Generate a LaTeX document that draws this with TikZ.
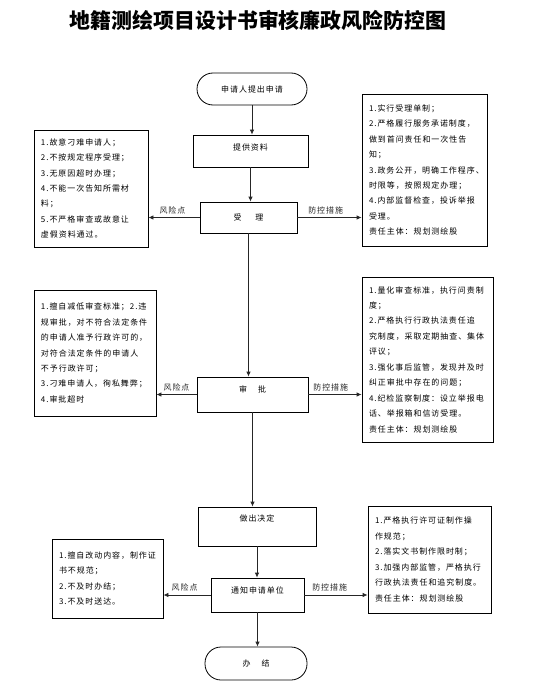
\documentclass[tikz,border=0pt]{standalone}
\usepackage{fontspec}
\newfontfamily\cjk[LetterSpace=12]{Noto Sans CJK SC}
\newfontfamily\titlefont{Noto Sans CJK SC}
\usetikzlibrary{arrows.meta}

\begin{document}
\begin{tikzpicture}[x=1bp, y=-1bp,
	every node/.style={font=\cjk\fontsize{8}{15.5}\selectfont},
	stepbox/.style={draw, rectangle, line width=0.8bp, inner sep=0pt},
	endbox/.style={draw, rectangle, rounded corners=16bp, line width=0.8bp, inner sep=0pt},
	riskbox/.style={draw, rectangle, align=left, line width=0.8bp, inner xsep=7bp, inner ysep=0pt},
	arr/.style={-{Latex[length=5bp,width=4.5bp]}, line width=0.8bp, black!85},
	tag/.style={above=2bp, inner sep=1bp}]
	
	\useasboundingbox (0,0) rectangle (535,696);
	
	\node[font=\titlefont\fontsize{21}{21}\selectfont\bfseries] (title) at (258,20) {地籍测绘项目设计书审核廉政风险防控图};
	
	\node[endbox, minimum width=110bp, minimum height=32bp] (start) at (252,89) {申请人提出申请};
	\node[stepbox, minimum width=115bp, minimum height=32bp, text depth=8bp] (tigong) at (250.5,151) {提供资料};
	\node[stepbox, minimum width=97bp, minimum height=31bp] (shouli) at (248.5,217.5) {受\hspace{14bp}理};
	\node[stepbox, minimum width=111bp, minimum height=35bp, text depth=10bp] (shenpi) at (252.5,394.5) {审\hspace{11bp}批};
	\node[stepbox, minimum width=118bp, minimum height=39bp, text depth=17bp] (zuochu) at (257,526.5) {做出决定};
	\node[stepbox, minimum width=93bp, minimum height=34bp, text depth=10bp] (tongzhi) at (257.5,595) {通知申请单位};
	\node[endbox, minimum width=102bp, minimum height=33bp] (banjie) at (256,663.5) {办\hspace{11bp}结};
	
	\node[riskbox, text width=100bp, minimum height=117bp] (fx1) at (91,188.5) {1.故意刁难申请人；\\2.不按规定程序受理；\\3.无原因超时办理；\\4.不能一次告知所需材\\料；\\5.不严格审查或故意让\\虚假资料通过。};
	\node[riskbox, text width=111bp, minimum height=152bp] (fk1) at (424.5,170) {1.实行受理单制；\\2.严格履行服务承诺制度，\\做到首问责任和一次性告\\知；\\3.政务公开，明确工作程序、\\时限等，按照规定办理；\\4.内部监督检查，投诉举报\\受理。\\责任主体：规划测绘股};
	\node[riskbox, text width=108bp, minimum height=126bp] (fx2) at (95,353) {1.擅自减低审查标准；2.违\\规审批，对不符合法定条件\\的申请人准予行政许可的，\\对符合法定条件的申请人\\不予行政许可；\\3.刁难申请人，徇私舞弊；\\4.审批超时};
	\node[riskbox, text width=117bp, minimum height=165bp] (fk2) at (427.5,359.5) {1.量化审查标准，执行问责制\\度；\\2.严格执行行政执法责任追\\究制度，采取定期抽查、集体\\评议；\\3.强化事后监管，发现并及时\\纠正审批中存在的问题；\\4.纪检监察制度：设立举报电\\话、举报箱和信访受理。\\责任主体：规划测绘股};
	\node[riskbox, text width=97bp, minimum height=79bp] (fx3) at (107.5,578.5) {1.擅自改动内容，制作证\\书不规范；\\2.不及时办结；\\3.不及时送达。};
	\node[riskbox, text width=109bp, minimum height=107bp] (fk3) at (429.5,559.5) {1.严格执行许可证制作操\\作规范；\\2.落实文书制作限时制；\\3.加强内部监管，严格执行\\行政执法责任和追究制度。\\责任主体：规划测绘股};
	
	\draw[arr] (start.south) -- (start.south |- tigong.north);
	\draw[arr] (tigong.south) -- (tigong.south |- shouli.north);
	\draw[arr] (shouli.south) -- (shouli.south |- shenpi.north);
	\draw[arr] (shenpi.south) -- (shenpi.south |- zuochu.north);
	\draw[arr] (zuochu.south) -- (zuochu.south |- tongzhi.north);
	\draw[arr] (tongzhi.south) -- (tongzhi.south |- banjie.north);
	
	\draw[arr] (shouli.west) -- node[tag, pos=0.53] (fxd1) {风险点} (shouli.west -| fx1.east);
	\draw[arr] (shouli.east) -- node[tag, pos=0.44] (fkcs1) {防控措施} (shouli.east -| fk1.west);
	\draw[arr] (shenpi.west) -- node[tag, pos=0.5] (fxd2) {风险点} (shenpi.west -| fx2.east);
	\draw[arr] (shenpi.east) -- node[tag, pos=0.42] (fkcs2) {防控措施} (shenpi.east -| fk2.west);
	\draw[arr] (tongzhi.west) -- node[tag, pos=0.55] (fxd3) {风险点} (tongzhi.west -| fx3.east);
	\draw[arr] (tongzhi.east) -- node[tag, pos=0.4] (fkcs3) {防控措施} (tongzhi.east -| fk3.west);
\end{tikzpicture}
\end{document}
